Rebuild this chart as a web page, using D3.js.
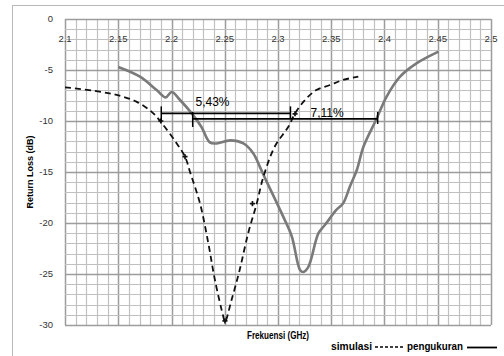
<!DOCTYPE html>
<html>
<head>
<meta charset="utf-8">
<script src="https://cdn.jsdelivr.net/npm/d3@7"></script>
<style>
  body { margin: 0; background: #fff; }
  svg { display: block; }
</style>
</head>
<body>
<svg width="504" height="356"></svg>
<script>
// tick values
var xTicks = [2.1, 2.15, 2.2, 2.25, 2.3, 2.35, 2.4, 2.45, 2.5];
var yTicks = [0, -5, -10, -15, -20, -25, -30];

// simulasi (dashed)
var simFreq = [2.1, 2.1266, 2.1485, 2.167, 2.1814, 2.1908, 2.2049, 2.2127, 2.2174, 2.2268, 2.2346, 2.2408, 2.2487, 2.2502,
  2.2565, 2.264, 2.272, 2.28, 2.2862, 2.297, 2.3097, 2.316, 2.3254, 2.336, 2.3488, 2.361, 2.3754];
var simDb = [-6.7, -7.03, -7.45, -8.1, -9.1, -10.2, -12.2, -13.5, -15.0, -18.1, -22.0, -25.6, -29.2, -29.7,
  -27.5, -24.6, -21.0, -18.1, -15.5, -12.5, -10.56, -9.25, -7.94, -6.96, -6.47, -5.98, -5.65];
var simMarkFreq = [2.19, 2.2127, 2.2502, 2.276, 2.316];
var simMarkDb = [-10.0, -13.5, -29.6, -18.1, -9.3];

// pengukuran (solid)
var measFreq = [2.15, 2.1704, 2.186, 2.1946, 2.2002, 2.208, 2.219, 2.228, 2.236, 2.2424, 2.255, 2.2675, 2.277, 2.283,
  2.2878, 2.305, 2.3129, 2.3207, 2.3238, 2.3285, 2.338, 2.344, 2.355, 2.361, 2.3676, 2.374, 2.3803, 2.392, 2.402,
  2.4146, 2.43, 2.4507];
var measDb = [-4.7, -5.65, -6.96, -7.68, -7.15, -7.94, -9.25, -10.56, -12.1, -12.2, -11.9, -12.2, -13.2, -14.5,
  -15.6, -19.4, -21.3, -24.6, -24.8, -24.3, -21.0, -20.2, -18.7, -18.1, -16.4, -14.8, -12.5, -9.9, -7.6,
  -5.65, -4.35, -3.2];

// bandwidth bars
var bwLabels = ['5,43%', '7,11%'];
var bwStart = [2.1904, 2.2199];
var bwEnd = [2.3117, 2.3936];
var bwDb = [-9.25, -9.8];

var svg = d3.select('svg');
var x = d3.scaleLinear().domain([2.1, 2.5]).range([65, 491]);
var y = d3.scaleLinear().domain([0, -30]).range([19, 325]);

// outer frame
svg.append('rect').attr('x', 12.5).attr('y', 5.5).attr('width', 520).attr('height', 400)
  .attr('fill', 'none').attr('stroke', '#b8b8b8');

// grid
var g = svg.append('g');
var minorX = d3.range(0, 41).map(function(i) { return 2.1 + i * 0.01; });
var minorY = d3.range(0, 31).map(function(i) { return -i; });
g.selectAll('.vx').data(minorX).enter().append('line')
  .attr('x1', function(d) { return Math.round(x(d)) + 0.5; })
  .attr('x2', function(d) { return Math.round(x(d)) + 0.5; })
  .attr('y1', y(0)).attr('y2', y(-30))
  .attr('stroke', function(d, i) { return i % 5 === 0 ? '#9c9c9c' : '#c0c0c0'; })
  .attr('stroke-width', function(d, i) { return i % 5 === 0 ? 1.5 : 1.2; });
g.selectAll('.hy').data(minorY).enter().append('line')
  .attr('y1', function(d) { return Math.round(y(d)) + 0.5; })
  .attr('y2', function(d) { return Math.round(y(d)) + 0.5; })
  .attr('x1', x(2.1)).attr('x2', x(2.5))
  .attr('stroke', function(d, i) { return i % 5 === 0 ? '#9c9c9c' : '#c0c0c0'; })
  .attr('stroke-width', function(d, i) { return i % 5 === 0 ? 1.5 : 1.2; });

// axes labels
g.selectAll('.xt').data(xTicks).enter().append('text')
  .attr('x', function(d) { return x(d); }).attr('y', 42)
  .attr('text-anchor', 'middle')
  .style('font', '9.5px "Liberation Sans", Arial, sans-serif').attr('fill', '#333')
  .text(function(d) { return d; });
g.selectAll('.yt').data(yTicks).enter().append('text')
  .attr('x', 53).attr('y', function(d) { return y(d) + 3; })
  .attr('text-anchor', 'end')
  .style('font', '9.5px "Liberation Sans", Arial, sans-serif').attr('fill', '#333')
  .text(function(d) { return d; });

svg.append('text').attr('transform', 'translate(33,172) rotate(-90)')
  .attr('text-anchor', 'middle')
  .style('font', 'bold 9px "Liberation Sans", Arial, sans-serif')
  .text('Return Loss (dB)');
svg.append('text').attr('x', 247).attr('y', 339)
  .attr('textLength', 62).attr('lengthAdjust', 'spacingAndGlyphs')
  .style('font', 'bold 10px "Liberation Sans", Arial, sans-serif')
  .text('Frekuensi (GHz)');

// curves
var line = d3.line().curve(d3.curveCatmullRom)
  .x(function(d) { return x(d[0]); }).y(function(d) { return y(d[1]); });

svg.append('path').datum(d3.zip(measFreq, measDb)).attr('d', line)
  .attr('fill', 'none').attr('stroke', '#7a7a7a').attr('stroke-width', 2.6);
svg.append('path').datum(d3.zip(simFreq, simDb)).attr('d', line)
  .attr('fill', 'none').attr('stroke', '#111').attr('stroke-width', 1.8)
  .attr('stroke-dasharray', '6,4');

svg.selectAll('.mk').data(d3.zip(simMarkFreq, simMarkDb)).enter().append('path')
  .attr('d', d3.symbol().type(d3.symbolCross).size(14))
  .attr('transform', function(d) { return 'translate(' + x(d[0]) + ',' + y(d[1]) + ')'; })
  .attr('fill', '#111');

// bandwidth bars
var bw = svg.selectAll('.bw').data(bwLabels).enter().append('g');
bw.append('line')
  .attr('x1', function(d, i) { return x(bwStart[i]); })
  .attr('x2', function(d, i) { return x(bwEnd[i]); })
  .attr('y1', function(d, i) { return y(bwDb[i]); })
  .attr('y2', function(d, i) { return y(bwDb[i]); })
  .attr('stroke', '#000').attr('stroke-width', 1.8);
bw.append('line')
  .attr('x1', function(d, i) { return x(bwStart[i]); })
  .attr('x2', function(d, i) { return x(bwStart[i]); })
  .attr('y1', function(d, i) { return y(bwDb[i]) - 7; })
  .attr('y2', function(d, i) { return y(bwDb[i]) + 8; })
  .attr('stroke', '#000').attr('stroke-width', 1.5);
bw.append('line')
  .attr('x1', function(d, i) { return x(bwEnd[i]); })
  .attr('x2', function(d, i) { return x(bwEnd[i]); })
  .attr('y1', function(d, i) { return y(bwDb[i]) - 7; })
  .attr('y2', function(d, i) { return y(bwDb[i]) + 5; })
  .attr('stroke', '#000').attr('stroke-width', 1.5);
var bwTextX = [2.2225, 2.3305];
var bwTextDb = [-8.5, -9.6];
bw.append('text')
  .attr('x', function(d, i) { return x(bwTextX[i]); })
  .attr('y', function(d, i) { return y(bwTextDb[i]); })
  .style('font', '12px "Liberation Sans", Arial, sans-serif').attr('fill', '#000')
  .text(function(d) { return d; });

// legend
svg.append('text').attr('x', 331).attr('y', 350)
  .attr('textLength', 41).attr('lengthAdjust', 'spacingAndGlyphs')
  .style('font', 'bold 11px "Liberation Sans", Arial, sans-serif')
  .text('simulasi');
svg.append('line').attr('x1', 375).attr('x2', 403).attr('y1', 347).attr('y2', 347)
  .attr('stroke', '#000').attr('stroke-width', 1.5).attr('stroke-dasharray', '3,2');
svg.append('text').attr('x', 407).attr('y', 350)
  .attr('textLength', 56).attr('lengthAdjust', 'spacingAndGlyphs')
  .style('font', 'bold 11px "Liberation Sans", Arial, sans-serif')
  .text('pengukuran');
svg.append('line').attr('x1', 467).attr('x2', 497).attr('y1', 347.5).attr('y2', 347.5)
  .attr('stroke', '#000').attr('stroke-width', 1.8);
</script>
</body>
</html>
